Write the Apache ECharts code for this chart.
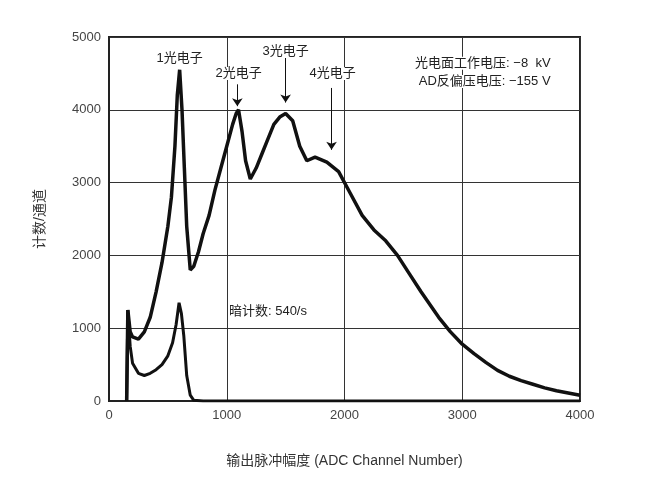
<!DOCTYPE html><html><head><meta charset="utf-8"><script src="https://cdn.jsdelivr.net/npm/echarts@6/dist/echarts.min.js"></script></head><body style="margin:0"><div id="c" style="width:652px;height:478px"></div><script>
const signal=[[150,0],[160,1250],[180,950],[200,880],[250,850],[300,950],[350,1150],[400,1500],[450,1900],[500,2400],[530,2800],[560,3500],[580,4200],[600,4550],[620,4000],[640,3200],[660,2400],[690,1800],[720,1850],[760,2050],[800,2300],[850,2550],[900,2900],[950,3200],[1000,3500],[1050,3800],[1080,3950],[1100,4000],[1130,3700],[1160,3300],[1200,3050],[1250,3200],[1300,3400],[1350,3600],[1400,3800],[1450,3900],[1500,3950],[1560,3850],[1620,3500],[1680,3300],[1750,3350],[1850,3280],[1950,3150],[2050,2850],[2150,2550],[2250,2350],[2350,2200],[2450,2000],[2550,1750],[2650,1500],[2800,1150],[2900,950],[3000,780],[3100,650],[3200,530],[3300,420],[3400,340],[3500,280],[3600,230],[3700,180],[3800,140],[3900,110],[4000,80]];
const dark=[[150,0],[160,1250],[180,750],[200,520],[250,380],[300,350],[350,380],[400,430],[450,500],[500,620],[540,800],[570,1050],[595,1350],[615,1200],[635,900],[660,350],[690,80],[720,10],[800,0],[4000,0]];
const xTicks=[0,1000,2000,3000,4000], yTicks=[0,1000,2000,3000,4000,5000];
const ch=echarts.init(document.getElementById('c'));
const F='"Liberation Sans","Noto Sans CJK SC", sans-serif';
ch.setOption({animation:false,
grid:{left:109,right:72,top:37,bottom:77,show:true,borderColor:'#222',borderWidth:2},
xAxis:{type:'value',min:0,max:4000,interval:1000,name:'输出脉冲幅度 (ADC Channel Number)',nameLocation:'middle',nameGap:53,nameTextStyle:{fontFamily:F,fontSize:14,color:'#333'},
 axisLine:{lineStyle:{color:'#222',width:2}},axisTick:{show:false},axisLabel:{fontFamily:F,fontSize:13,color:'#444',formatter:v=>String(v)},splitLine:{lineStyle:{color:'#333',width:1}}},
yAxis:{type:'value',min:0,max:5000,interval:1000,name:'计数/通道',nameLocation:'middle',nameGap:62,nameTextStyle:{fontFamily:F,fontSize:14,color:'#333'},
 axisLine:{show:true,lineStyle:{color:'#222',width:2}},axisTick:{show:false},axisLabel:{fontFamily:F,fontSize:13,color:'#444',formatter:v=>String(v)},splitLine:{lineStyle:{color:'#333',width:1}}},
series:[
{type:'line',data:signal,symbol:'none',lineStyle:{color:'#111',width:3.5},z:3},
{type:'line',data:dark,symbol:'none',lineStyle:{color:'#111',width:3},z:3},
{type:'line',data:[],markLine:{silent:true,symbol:['none','arrow'],symbolSize:8,label:{show:false},lineStyle:{color:'#111',width:1,type:'solid'},
 data:[[{coord:[1090,4350]},{coord:[1090,4050]}],[{coord:[1500,4780]},{coord:[1500,4100]}],[{coord:[1890,4300]},{coord:[1890,3450]}]]}}
],
graphic:[]});
const T=(x,y,t,al)=>{const p=ch.convertToPixel({gridIndex:0},[x,y]);return {type:'text',x:p[0],y:p[1],z:10,style:{text:t,font:'13px '+F,fill:'#222',align:al||'center',verticalAlign:'middle',backgroundColor:'#fff'}};};
ch.setOption({graphic:[T(600,4710,'1光电子'),T(1100,4500,'2光电子'),T(1500,4800,'3光电子'),T(1900,4500,'4光电子'),
T(3750,4640,'光电面工作电压: −8  kV','right'),T(3750,4390,'AD反偏压电压: −155 V','right'),T(1350,1230,'暗计数: 540/s')]});
</script></body></html>
